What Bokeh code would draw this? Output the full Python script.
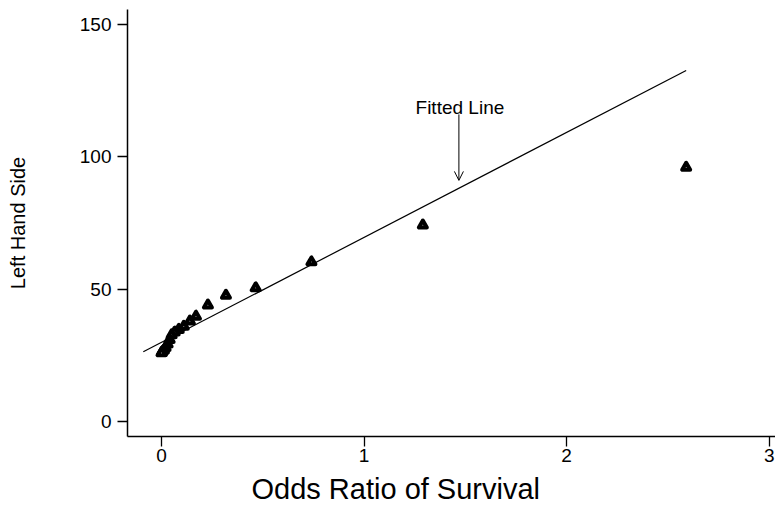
from bokeh.plotting import figure
from bokeh.models import Range1d, FixedTicker, Label, Arrow, OpenHead, ColumnDataSource, Title
from bokeh.embed import file_html
from bokeh.resources import INLINE

# data
odds_ratio = [2.59, 1.29, 0.74, 0.465, 0.318, 0.229, 0.17, 0.14, 0.11, 0.085,
              0.065, 0.05, 0.04, 0.03, 0.02, 0.012, 0.006, 0.002, 0.0]
lhs = [96.0, 74.2, 60.3, 50.5, 47.7, 44.0, 39.8, 38.0, 36.0, 34.8,
       33.8, 32.8, 31.0, 29.3, 28.0, 27.0, 26.6, 26.2, 26.0]
fit_x = [-0.09, 2.59]
fit_y = [26.4, 132.6]
x_ticks = [0, 1, 2, 3]
y_ticks = [0, 50, 100, 150]
annot_text = "Fitted Line"
annot_text_x = 1.473
annot_text_y = 118.8
arrow_x = 1.468
arrow_start_y = 116.0
arrow_end_y = 91.1
x_title = "Odds Ratio of Survival"
y_title = "Left Hand Side"

FONT = "Liberation Sans"

p = figure(width=775, height=511, output_backend="svg", toolbar_location=None,
           x_range=Range1d(-0.168, 3.031), y_range=Range1d(-5.55, 155.6),
           min_border_left=127, min_border_right=0, min_border_top=9,
           min_border_bottom=75)
p.title.visible = False
p.grid.visible = False
p.outline_line_color = None
p.background_fill_color = "white"
p.border_fill_color = "white"

for ax in (p.xaxis[0], p.yaxis[0]):
    ax.axis_line_color = "black"
    ax.axis_line_width = 1.5
    ax.major_tick_line_color = "black"
    ax.major_tick_line_width = 1.3
    ax.major_tick_in = 0
    ax.major_tick_out = 10
    ax.minor_tick_line_color = None
    ax.major_label_text_font = FONT
    ax.major_label_text_font_size = "19px"
    ax.major_label_text_color = "black"

p.xaxis.ticker = FixedTicker(ticks=x_ticks)
p.yaxis.ticker = FixedTicker(ticks=y_ticks)
p.xaxis.major_label_standoff = 2
p.yaxis.major_label_standoff = 6

p.yaxis.axis_label = y_title
p.yaxis.axis_label_text_font = FONT
p.yaxis.axis_label_text_font_size = "20px"
p.yaxis.axis_label_text_font_style = "normal"
p.yaxis.axis_label_text_color = "black"
p.yaxis.axis_label_standoff = 48

# fitted line
p.line(fit_x, fit_y, line_color="black", line_width=1.2)

# points
src = ColumnDataSource(dict(x=odds_ratio, y=lhs))
p.scatter("x", "y", source=src, marker="triangle", size=8,
          fill_color="white", line_color="black", line_width=4,
          line_join="round")

# annotation
p.add_layout(Label(x=annot_text_x, y=annot_text_y, text=annot_text,
                   text_font=FONT, text_font_size="19px",
                   text_align="center", text_baseline="alphabetic",
                   text_color="black"))
p.add_layout(Arrow(x_start=arrow_x, y_start=arrow_start_y,
                   x_end=arrow_x, y_end=arrow_end_y,
                   line_color="black", line_width=1,
                   end=OpenHead(size=9, line_color="black", line_width=1)))

# x axis title
t = Title(text=x_title, align="left", offset=124, text_font=FONT,
          text_font_size="29px", text_font_style="normal", text_color="black",
          standoff=12)
p.add_layout(t, "below")

open("out.html", "w").write(file_html(p, INLINE))
